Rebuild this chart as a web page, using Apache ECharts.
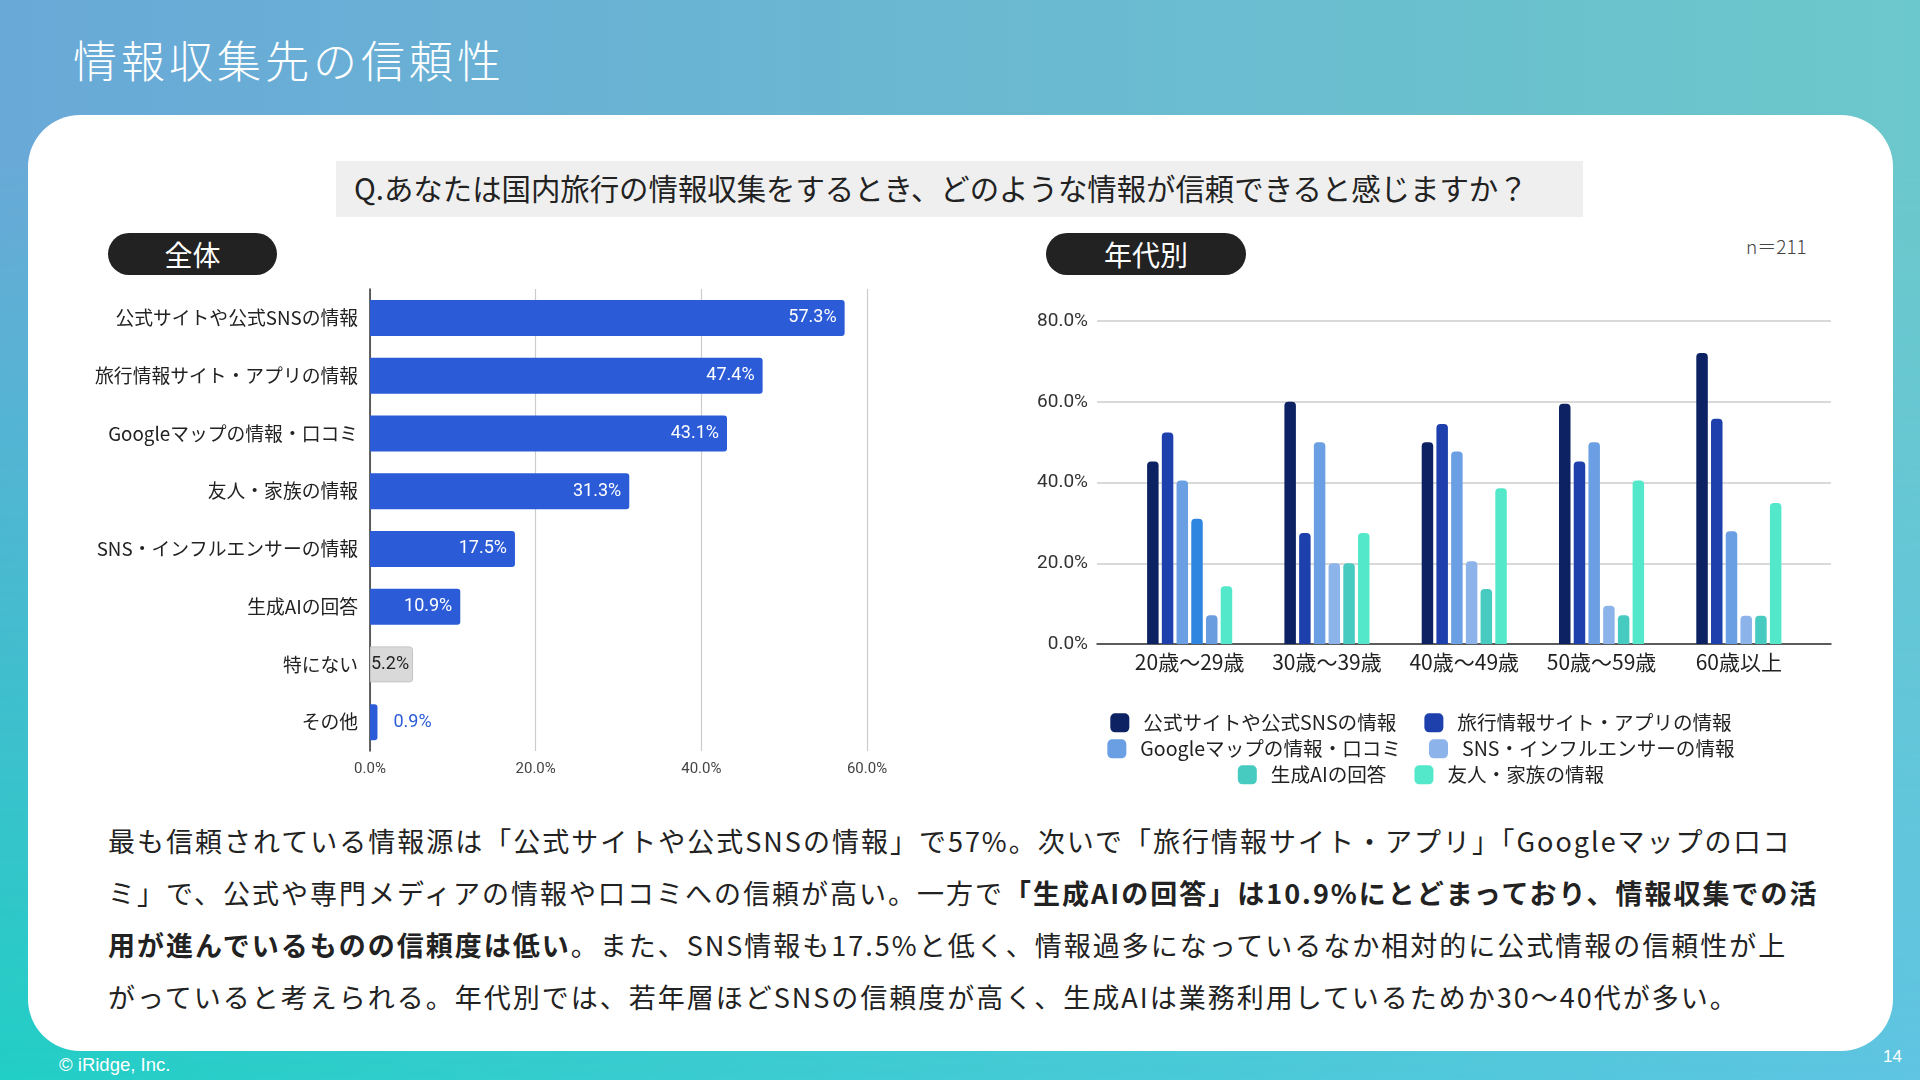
<!DOCTYPE html>
<html lang="ja">
<head>
<meta charset="utf-8">
<title>情報収集先の信頼性</title>
<script src="https://cdn.jsdelivr.net/npm/echarts@6/dist/echarts.min.js"></script>
<style>
  html, body { margin: 0; padding: 0; }
  body {
    width: 1920px; height: 1080px; position: relative; overflow: hidden;
    font-family: "Noto Sans CJK JP", "Noto Sans", sans-serif;
    background: linear-gradient(to right, #22cfc6, #45cbd6 55%, #5fc5e2);
  }
  .bg_top {
    position: absolute; left: 0; top: 0; width: 1920px; height: 1080px;
    background: linear-gradient(to right, #69a9d8, #6bc8cb);
    -webkit-mask-image: linear-gradient(to bottom, #000 0%, #000 15%, transparent 100%);
    mask-image: linear-gradient(to bottom, #000 0%, #000 15%, transparent 100%);
  }
  .title {
    position: absolute; left: 73px; top: 29px; line-height: 60px;
    font-size: 44px; font-weight: 300; letter-spacing: 4px; color: #fff;
  }
  .card {
    position: absolute; left: 28px; top: 115px; width: 1865px; height: 936px;
    background: #fff; border-radius: 52px;
  }
  .question {
    position: absolute; left: 336px; top: 161px; width: 1229px; height: 56px;
    padding-left: 18px; background: #efefef; color: #222;
    font-size: 29.4px; line-height: 52px; white-space: nowrap;
  }
  .pill {
    position: absolute; top: 233px; height: 42px; border-radius: 21px;
    background: #222; color: #fff; font-size: 28px; line-height: 42px; text-align: center;
  }
  .n_count {
    position: absolute; left: 1746px; top: 232px; font-size: 19px; font-weight: 300; color: #444;
  }
  .note {
    position: absolute; left: 108px; top: 815px; white-space: nowrap;
    font-size: 27px; line-height: 52px; letter-spacing: 2px; color: #222;
  }
  .note b { font-weight: 700; }
  .foot { position: absolute; color: #fff; font-family: "Liberation Sans", Arial, sans-serif; line-height: 20px; }
  #left_chart { position: absolute; left: 60px; top: 270px; width: 840px; height: 530px; }
  #right_chart { position: absolute; left: 1010px; top: 230px; width: 822px; height: 570px; }
</style>
</head>
<body>
<div class="bg_top"></div>
<div class="title">情報収集先の信頼性</div>
<div class="card"></div>
<div class="question">Q.あなたは国内旅行の情報収集をするとき、どのような情報が信頼できると感じますか？</div>
<div class="pill" style="left:108px;width:169px;">全体</div>
<div class="pill" style="left:1046px;width:200px;">年代別</div>
<div class="n_count">n＝211</div>
<div id="left_chart"></div>
<div id="right_chart"></div>
<div class="note">
最も信頼されている情報源は「公式サイトや公式SNSの情報」で57%。次いで「旅行情報サイト・アプリ」「Googleマップの口コ<br>
ミ」で、公式や専門メディアの情報や口コミへの信頼が高い。一方で<b>「生成AIの回答」は10.9%にとどまっており、情報収集での活</b><br>
<b>用が進んでいるものの信頼度は低い</b>。また、SNS情報も17.5%と低く、情報過多になっているなか相対的に公式情報の信頼性が上<br>
がっていると考えられる。年代別では、若年層ほどSNSの信頼度が高く、生成AIは業務利用しているためか30～40代が多い。
</div>
<div class="foot" style="left:59px;top:1055px;font-size:18.5px;">© iRidge, Inc.</div>
<div class="foot" style="left:1883px;top:1047px;font-size:17px;">14</div>

<script>
// 全体
const totalCategories = [
  "公式サイトや公式SNSの情報",
  "旅行情報サイト・アプリの情報",
  "Googleマップの情報・口コミ",
  "友人・家族の情報",
  "SNS・インフルエンサーの情報",
  "生成AIの回答",
  "特にない",
  "その他",
];
const totalValues = [57.3, 47.4, 43.1, 31.3, 17.5, 10.9, 5.2, 0.9];
const totalTicks = [0, 20, 40, 60];

// 年代別
const ageGroups = ["20歳～29歳", "30歳～39歳", "40歳～49歳", "50歳～59歳", "60歳以上"];
const seriesNames = [
  "公式サイトや公式SNSの情報",
  "旅行情報サイト・アプリの情報",
  "Googleマップの情報・口コミ",
  "SNS・インフルエンサーの情報",
  "生成AIの回答",
  "友人・家族の情報",
];
const officialValues = [45.2, 60.0, 50.0, 59.5, 72.1];
const travelAppValues = [52.4, 27.5, 54.5, 45.2, 55.8];
const googleMapValues = [40.5, 50.0, 47.7, 50.0, 27.9];
const snsValues = [31.0, 20.0, 20.5, 9.5, 7.0];
const genAiValues = [7.1, 20.0, 13.6, 7.1, 7.0];
const friendValues = [14.3, 27.5, 38.6, 40.5, 34.9];
const ageTicks = [0, 20, 40, 60, 80];

const seriesColors = ["#0c2262", "#1d40ad", "#6b9fe3", "#8cb4ea", "#47cbc0", "#54e8ca"];
const pct = (v) => v.toFixed(1) + "%";
const numFont = 'Roboto, "Noto Sans CJK JP", sans-serif';
const jpFont = '"Noto Sans CJK JP", sans-serif';

let initTotalChart = () => {
  let myChart = echarts.init(document.getElementById("left_chart"));
  let data = totalValues.map((v, i) => {
    if (i === 6) {
      // 特にない は灰色
      return {
        value: v,
        itemStyle: { color: "#d9d9d9", borderColor: "#c4c4c4", borderWidth: 1 },
        label: { color: "#222", distance: 4 },
      };
    }
    if (i === 7) {
      return { value: v, label: { position: "right", color: "#2b5bd7", distance: 16 } };
    }
    return v;
  });
  let option = {
    animation: false,
    grid: { left: 310, top: 19, width: 497, height: 462 },
    xAxis: {
      type: "value",
      min: totalTicks[0],
      max: totalTicks[totalTicks.length - 1],
      interval: 20,
      axisLine: { show: false },
      axisTick: { show: false },
      axisLabel: { formatter: pct, color: "#444", fontSize: 15, fontFamily: numFont, margin: 11 },
      splitLine: { show: true, lineStyle: { color: "#cccccc", width: 1.2 } },
    },
    yAxis: {
      type: "category",
      inverse: true,
      data: totalCategories,
      axisLine: { show: true, lineStyle: { color: "#333", width: 1.5 } },
      axisTick: { show: false },
      axisLabel: { color: "#222", fontSize: 18.8, fontFamily: jpFont, margin: 12, interval: 0 },
    },
    series: [
      {
        type: "bar",
        data: data,
        barWidth: 36,
        itemStyle: { color: "#2b5bd7", borderRadius: [0, 3, 3, 0] },
        label: {
          show: true,
          position: "insideRight",
          distance: 8,
          color: "#fff",
          fontSize: 18,
          fontFamily: numFont,
          formatter: (p) => pct(p.value),
        },
      },
    ],
  };
  myChart.setOption(option);
};

let initAgeChart = () => {
  let myChart = echarts.init(document.getElementById("right_chart"));
  let valueLists = [officialValues, travelAppValues, googleMapValues, snsValues, genAiValues, friendValues];
  // 20代の一部の棒だけ色が違う
  let pointColors = { 3: { 0: "#2f86e0" }, 4: { 0: "#6a9de0" } };
  let series = valueLists.map((vals, si) => ({
    name: seriesNames[si],
    type: "bar",
    xAxisIndex: 1,
    yAxisIndex: 1,
    barWidth: 11.5,
    barGap: "28%",
    itemStyle: { color: seriesColors[si], borderRadius: [4, 4, 0, 0] },
    data: vals.map((v, i) =>
      pointColors[si] && pointColors[si][i] ? { value: v, itemStyle: { color: pointColors[si][i] } } : v
    ),
  }));
  let legendBase = {
    left: "center",
    itemWidth: 19,
    itemHeight: 19,
    itemGap: 28,
    icon: "roundRect",
    selectedMode: false,
    textStyle: { color: "#222", fontSize: 19.6, fontFamily: jpFont, padding: [0, 0, 0, 9] },
  };
  let option = {
    animation: false,
    grid: [
      { left: 87, top: 91, width: 734, height: 323 },
      { left: 111, top: 91, width: 686.5, height: 323 },
    ],
    legend: [
      Object.assign({}, legendBase, { top: 478, data: seriesNames.slice(0, 2) }),
      Object.assign({}, legendBase, { top: 504, data: seriesNames.slice(2, 4) }),
      Object.assign({}, legendBase, { top: 530, data: seriesNames.slice(4, 6) }),
    ],
    xAxis: [
      {
        gridIndex: 0,
        type: "value",
        min: 0,
        max: 1,
        axisLine: { show: true, onZero: false, lineStyle: { color: "#333", width: 1.5 } },
        axisTick: { show: false },
        axisLabel: { show: false },
        splitLine: { show: false },
      },
      {
        gridIndex: 1,
        type: "category",
        data: ageGroups,
        axisLine: { show: false },
        axisTick: { show: false },
        axisLabel: { color: "#222", fontSize: 21, fontFamily: jpFont, margin: 8, interval: 0, hideOverlap: false },
      },
    ],
    yAxis: [
      {
        gridIndex: 0,
        type: "value",
        min: ageTicks[0],
        max: ageTicks[ageTicks.length - 1],
        interval: 20,
        axisLine: { show: false },
        axisTick: { show: false },
        axisLabel: { formatter: pct, color: "#333", fontSize: 19, fontFamily: numFont, margin: 9 },
        splitLine: { show: true, lineStyle: { color: "#cccccc", width: 1.5 } },
      },
      {
        gridIndex: 1,
        type: "value",
        min: ageTicks[0],
        max: ageTicks[ageTicks.length - 1],
        show: false,
        splitLine: { show: false },
      },
    ],
    series: series,
  };
  myChart.setOption(option);
};

initTotalChart();
initAgeChart();
</script>
</body>
</html>
